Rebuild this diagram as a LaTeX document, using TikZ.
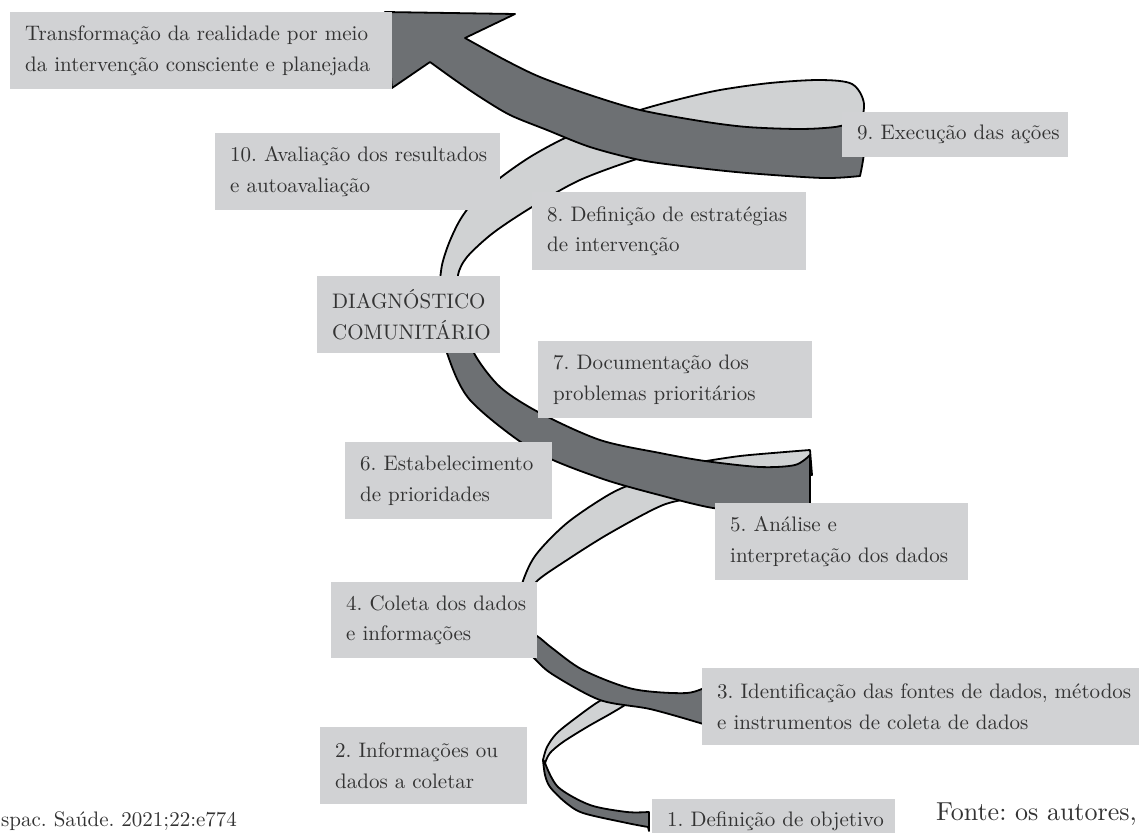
\documentclass[tikz,border=0pt]{standalone}
\usepackage{fontspec}
\setmainfont{lmroman10-regular}[Extension=.otf]
\usepackage{tikz}
\definecolor{boxgray}{HTML}{D1D2D4}
\definecolor{darkrib}{HTML}{6D7073}
\definecolor{lightrib}{HTML}{D0D2D3}
\definecolor{txtgray}{HTML}{333333}

\begin{document}
\frenchspacing
\begin{tikzpicture}[x=1pt, y=-1pt,
		box/.style={fill=boxgray, text=txtgray, inner xsep=15pt, inner ysep=0pt, align=left, anchor=north west, font=\fontsize{21}{30.5}\selectfont,
			execute at begin node={\rightskip=0pt plus 1fil minus 60pt}},
		foot/.style={text=txtgray, inner sep=0pt, font=\fontsize{21}{26}\selectfont},
		front/.style={fill=darkrib, draw=black, line width=1.8pt, line join=round},
		back/.style={fill=lightrib, draw=black, line width=1.8pt, line join=round}]
				\useasboundingbox (0,0) rectangle (1139,832);
				\fill[white] (0,0) rectangle (1139,832);

				\path[back] plot[smooth] coordinates {(858,138) (864,104) (852,84) (820,80) (770,83) (720,90) (680,99) (640,110) (600,124) (563,139) (530,157) (500,178) (475,200) (460,220) (449,243) (442,265) (439,290)}
				-- (462,290) -- plot[smooth] coordinates {(462,290) (458,275) (467,257) (493,233) (532,207) (580,180) (640,158) (700,142) (780,134) (858,138)} -- cycle;

				\path[front] (385,12) -- (515,14) -- plot[smooth] coordinates {(465,38) (505,60) (540,77) (590,95) (640,110) (700,121) (747,127) (800,129) (835,127) (855,122)}
				-- plot[smooth] coordinates {(855,122) (864,148) (860,176)}
				-- plot[smooth] coordinates {(860,176) (823,178) (747,173) (690,167) (640,160) (590,147) (547,130) (510,115) (480,97) (455,80) (430,62)} -- (392,88) -- cycle;

				\path[back] plot[smooth] coordinates {(680,478) (640,482) (610,494) (567,523) (535,556) (521,587) (517,615)}
				-- (528,618) -- plot[smooth] coordinates {(528,618) (530,600) (536,582) (567,560) (610,533) (663,505) (700,497)} -- cycle;

				\path[back] plot[smooth] coordinates {(700,462) (740,456) (785,452) (810,450)} -- (812,475) -- (700,475) -- cycle;

				\path[front] plot[smooth] coordinates {(472,330) (474,353) (500,387) (540,413) (600,440) (660,453) (705,461) (760,467) (795,465) (810,455)}
				-- (810,512) -- plot[smooth] coordinates {(810,512) (760,512) (713,508) (663,496) (600,478) (533,450) (470,400) (447,353) (445,330)} -- cycle;

				\path[back] plot[smooth] coordinates {(620,690) (598,702) (577,717) (557,733) (547,747) (543,760)}
				-- plot[smooth] coordinates {(545,763) (550,753) (563,742) (587,727) (610,714) (625,705) (640,695)} -- cycle;

				\path[front] plot[smooth] coordinates {(543,760) (545,775) (550,787) (565,802) (583,813) (627,823) (648,827)}
				-- (649,831) -- (649,812) -- plot[smooth] coordinates {(648,812) (627,812) (590,805) (558,787) (545,763)} -- cycle;

				\path[front] plot[smooth] coordinates {(515,624) (537,636) (552,648) (583,670) (633,689) (687,693) (712,684)}
				-- (714,728) -- plot[smooth] coordinates {(714,728) (700,723) (650,709) (600,700) (552,674) (534,658) (518,642)} -- cycle;

				\node[box, text width=352pt, minimum height=77pt] (transf) at (10,12) {Transformação da realidade por meio\\da intervenção consciente e planejada};
				\node[box, text width=196pt, minimum height=45pt] (exec) at (842,112) {9. Execução das ações};
				\node[box, text width=255pt, minimum height=77pt] (aval) at (215,133) {10. Avaliação dos resultados\\e autoavaliação};
				\node[box, text width=244pt, minimum height=78pt] (estrat) at (532,192) {8. Definição de estratégias\\de intervenção};
				\node[box, text width=153pt, minimum height=77pt] (diag) at (317,276) {DIAGNÓSTICO\\COMUNITÁRIO};
				\node[box, text width=244pt, minimum height=77pt] (doc) at (538,341) {7. Documentação dos\\problemas prioritários};
				\node[box, text width=177pt, minimum height=77pt] (estab) at (345,442) {6. Estabelecimento\\de prioridades};
				\node[box, text width=223pt, minimum height=77pt] (anal) at (715,503) {5. Análise e\\interpretação dos dados};
				\node[box, text width=176pt, minimum height=76pt] (coleta) at (331,582) {4. Coleta dos dados\\e informações};
				\node[box, text width=428pt, minimum height=77pt] (ident) at (702,668) {3. Identificação das fontes de dados, métodos\\e instrumentos de coleta de dados};
				\node[box, text width=177pt, minimum height=77pt] (info) at (320,727) {2. Informações ou\\dados a coletar};
				\node[box, text width=213pt, minimum height=45pt] (defin) at (652,799) {1. Definição de objetivo};

				\node[foot, anchor=base east, font=\fontsize{26}{30}\selectfont] (fonte) at (1137,820) {Fonte: os autores,};
				\node[foot, anchor=base west] (citacao) at (1,826) {spac. Saúde. 2021;22:e774};
			\end{tikzpicture}
\end{document}
